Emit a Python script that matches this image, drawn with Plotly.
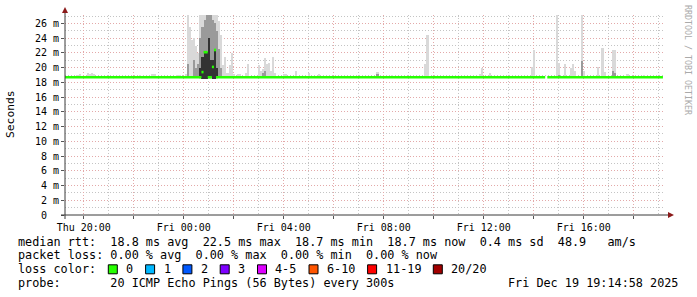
import plotly.graph_objects as go
import pandas as pd

# ---------------- data ----------------
THU = "2025-12-18 "
FRI = "2025-12-19 "

# light smoke (full spread of the 20 pings): time, low, high  (ms)
light_t = [THU + t for t in ["19:45", "19:50", "20:10", "20:15", "20:20", "20:25", "20:55",
                             "22:00", "22:15", "22:45", "22:50", "23:45", "23:50"]] + \
          [FRI + t for t in ["00:05", "00:10", "00:15", "00:20", "00:25", "00:30", "00:35",
                             "00:40", "00:45", "00:50", "00:55", "01:00", "01:05", "01:10",
                             "01:15", "01:20", "01:25", "01:30", "01:35", "01:40", "01:45",
                             "01:50", "01:55", "02:00", "02:10", "02:15", "02:30", "02:35",
                             "03:00", "03:05", "03:10", "03:15", "03:20", "03:25", "03:30",
                             "03:35", "03:40", "04:00", "04:05", "04:30", "05:00", "05:25",
                             "07:45", "08:20", "09:40", "09:45", "11:50", "11:55", "12:15",
                             "13:00", "13:55", "14:00", "14:55", "15:00", "15:15", "15:30",
                             "15:35", "15:40", "15:55", "16:00", "16:35", "16:45", "16:50",
                             "17:10", "17:15", "17:45", "18:25"]]
light_lo = [18.7, 18.7, 18.7, 18.7, 18.7, 18.7, 18.7,
            18.7, 18.7, 18.7, 18.7, 18.7, 18.7,
            18.7, 18.6, 18.6, 18.6, 18.6, 18.6, 18.6,
            18.5, 18.5, 18.5, 18.5, 18.5, 18.5, 18.5,
            18.5, 18.5, 18.6, 18.6, 18.6, 18.6, 18.6,
            18.6, 18.6, 18.6, 18.7, 18.7, 18.7, 18.7,
            18.7, 18.7, 18.7, 18.7, 18.7, 18.7, 18.7,
            18.7, 18.7, 18.7, 18.7, 18.7, 18.7, 18.7,
            18.7, 18.7, 18.7, 18.7, 18.7, 18.7, 18.7,
            18.7, 18.7, 18.7, 18.7, 18.7, 18.7, 18.7,
            18.7, 18.7, 18.7, 18.7, 18.7, 18.7, 18.7,
            18.7, 18.7, 18.7, 18.7]
light_hi = [19.0, 19.1, 19.3, 19.2, 19.3, 19.2, 18.9,
            18.9, 19.0, 19.1, 19.1, 19.0, 19.0,
            19.2, 27.2, 25.5, 23.7, 24.0, 23.0, 22.0,
            27.2, 27.2, 27.2, 27.2, 27.2, 27.2, 27.2,
            27.2, 27.2, 26.3, 24.5, 20.4, 21.5, 19.3,
            20.3, 22.0, 19.2, 19.1, 19.1, 19.3, 20.5,
            20.3, 19.5, 19.8, 21.3, 20.5, 20.6, 19.5,
            21.4, 19.3, 19.1, 19.1, 19.5, 19.3, 19.2,
            19.4, 19.0, 20.5, 24.5, 19.1, 20.0, 19.3,
            18.9, 20.1, 22.4, 27.2, 20.6, 20.5, 19.9,
            20.5, 19.5, 27.2, 19.6, 20.1, 22.7, 19.4,
            22.4, 22.4, 19.2, 19.0]

# medium smoke (inner percentiles)
mid_t = [FRI + t for t in ["00:10", "00:25", "00:30", "00:35", "00:40", "00:45", "00:50",
                           "00:55", "01:00", "01:05", "01:10", "01:15", "01:20", "01:25",
                           "01:30", "03:10", "03:15", "07:45", "15:00", "15:55", "17:10",
                           "17:15"]]
mid_lo = [18.7, 18.7, 18.7, 18.7, 18.7, 18.6, 18.6,
          18.6, 18.6, 18.6, 18.6, 18.6, 18.7, 18.7,
          18.7, 18.7, 18.7, 18.7, 18.7, 18.7, 18.7,
          18.7]
mid_hi = [20.5, 21.0, 20.0, 20.5, 24.0, 25.5, 26.5,
          27.2, 27.2, 27.2, 26.5, 26.0, 25.0, 22.5,
          20.0, 19.3, 19.6, 19.1, 19.0, 20.9, 19.5,
          19.3]

# dark smoke core
dark_t = [FRI + t for t in ["00:40", "00:45", "00:50", "00:55", "01:00", "01:05", "01:10",
                            "01:15", "01:20"]]
dark_lo = [18.7, 18.5, 18.5, 18.5, 18.7, 18.7, 18.5, 18.5, 18.7]
dark_hi = [20.0, 21.5, 22.1, 22.1, 24.0, 21.0, 21.0, 22.4, 20.0]

# median rtt: value holds from each time until the next one (None = no data)
median_t = [THU + "19:15:00", FRI + "00:42:30", FRI + "00:47:30", FRI + "00:57:30",
            FRI + "01:07:30", FRI + "01:12:30", FRI + "01:17:30", FRI + "14:27:30",
            FRI + "14:32:30", FRI + "19:10:00"]
median_v = [18.7, 19.4, 22.1, 18.7, 20.1, 22.4, 18.7, None, 18.7, None]

# axis ticks
x_tickvals = [THU + "20:00", THU + "22:00", FRI + "00:00", FRI + "02:00", FRI + "04:00",
              FRI + "06:00", FRI + "08:00", FRI + "10:00", FRI + "12:00", FRI + "14:00",
              FRI + "16:00", FRI + "18:00"]
x_ticktext = ["Thu 20:00", "", "Fri 00:00", "", "Fri 04:00", "", "Fri 08:00", "",
              "Fri 12:00", "", "Fri 16:00", ""]
y_tickvals = [0, 2, 4, 6, 8, 10, 12, 14, 16, 18, 20, 22, 24, 26]
y_ticktext = ["0\u00a0\u00a0"] + [f"{v} m" for v in y_tickvals[1:]]

legend_lines = [
    "median rtt:  18.8 ms avg  22.5 ms max  18.7 ms min  18.7 ms now  0.4 ms sd  48.9   am/s",
    "packet loss: 0.00 % avg  0.00 % max  0.00 % min  0.00 % now",
    "loss color:",
    "probe:       20 ICMP Echo Pings (56 Bytes) every 300s",
]
loss_labels = ["0", "1", "2", "3", "4-5", "6-10", "11-19", "20/20"]
loss_colors = ["#26ff00", "#00b8ff", "#0059ff", "#7e00ff", "#dd00ff", "#ff5500", "#ff0000", "#a10000"]
date_text = "Fri Dec 19 19:14:58 2025"
watermark = "RRDTOOL / TOBI OETIKER"

# ---------------- figure ----------------
W, H = 697, 297
L, R, T, B = 65, 32, 15, 82
PW, PH = W - L - R, H - T - B
MONO = "DejaVu Sans Mono"


def px(xp):
    return (xp - L) / PW


def py(yp):
    return (H - B - yp) / PH


fig = go.Figure()
STEP_MS = 300000


def smoke(ts, lo, hi, color):
    fig.add_trace(go.Bar(
        x=pd.to_datetime(ts), y=[h - l for l, h in zip(lo, hi)], base=lo,
        width=STEP_MS, marker=dict(color=color, line=dict(width=0)),
        showlegend=False, hoverinfo="skip"))


smoke(light_t, light_lo, light_hi, "#d9d9d9")
smoke(mid_t, mid_lo, mid_hi, "#9a9a9a")
smoke(dark_t, dark_lo, dark_hi, "#333333")

# median as horizontal segments (no vertical joins)
mx, my = [], []
for i in range(len(median_t) - 1):
    v = median_v[i]
    if v is None:
        continue
    mx += [median_t[i], median_t[i + 1], None]
    my += [v, v, None]
fig.add_trace(go.Scatter(x=mx, y=my, mode="lines", line=dict(color="#26ff00", width=2.6),
                         showlegend=False, hoverinfo="skip", connectgaps=False))

grid_minor = "#c4c4c4"
grid_major = "#e3a9a9"

fig.update_layout(
    width=W, height=H, margin=dict(l=L, r=R, t=T, b=B),
    paper_bgcolor="white", plot_bgcolor="white",
    barmode="overlay", bargap=0, showlegend=False,
    font=dict(family=MONO, size=10, color="black"),
    xaxis=dict(
        type="date", range=[THU + "19:15", FRI + "19:15"],
        tickmode="array", tickvals=x_tickvals, ticktext=x_ticktext,
        showgrid=True, gridcolor=grid_major, griddash="1px,2px", gridwidth=1,
        ticks="outside", ticklen=3, tickcolor="#555555",
        tickfont=dict(family=MONO, size=10, color="black"),
        minor=dict(dtick=3600000, showgrid=True, gridcolor=grid_minor, griddash="1px,2px",
                   ticks=""),
        showline=False, zeroline=False, fixedrange=True,
    ),
    yaxis=dict(
        range=[0, 27.15], tickmode="array", tickvals=y_tickvals, ticktext=y_ticktext,
        showgrid=True, gridcolor=grid_major, griddash="1px,2px", gridwidth=1,
        ticks="outside", ticklen=3, tickcolor="#555555",
        tickfont=dict(family=MONO, size=10, color="black"),
        minor=dict(dtick=1, showgrid=True, gridcolor=grid_minor, griddash="1px,2px", ticks=""),
        showline=False, zeroline=False, fixedrange=True,
    ),
)

# axes lines with arrows
axis_col = "#3a3a3a"
arrow_col = "#8b1a1a"
fig.add_shape(type="line", xref="paper", yref="paper", x0=px(61), x1=px(669), y0=0, y1=0,
              line=dict(color=axis_col, width=1))
fig.add_shape(type="line", xref="paper", yref="paper", x0=0, x1=0, y0=py(219), y1=py(12),
              line=dict(color=axis_col, width=1))
fig.add_shape(type="path", xref="paper", yref="paper",
              path=f"M {px(668)} {py(212)} L {px(674)} {py(215)} L {px(668)} {py(218)} Z",
              fillcolor=arrow_col, line=dict(width=0))
fig.add_shape(type="path", xref="paper", yref="paper",
              path=f"M {px(62)} {py(13)} L {px(65)} {py(7)} L {px(68)} {py(13)} Z",
              fillcolor=arrow_col, line=dict(width=0))

# y title and watermark
fig.add_annotation(text="Seconds", xref="paper", yref="paper", x=px(10), y=py(114),
                   xanchor="center", yanchor="middle",
                   showarrow=False, textangle=-90, font=dict(family=MONO, size=11.3, color="black"))
fig.add_annotation(text=watermark.replace(" ", "\u00a0"), xref="paper", yref="paper",
                   x=px(688), y=py(60), xanchor="center", yanchor="middle",
                   showarrow=False, textangle=90,
                   font=dict(family=MONO, size=8.3, color="#aaaaaa"))

# legend text
LEG_FS = 11.8
CW = 7.1
line_y = [241.7, 255.2, 269.3, 283.3]
for txt, yy in zip(legend_lines, line_y):
    fig.add_annotation(text=txt.replace(" ", "\u00a0"), xref="paper", yref="paper",
                       x=px(16), y=py(yy), xanchor="left", yanchor="middle", showarrow=False,
                       font=dict(family=MONO, size=LEG_FS, color="black"))
fig.add_annotation(text=date_text.replace(" ", "\u00a0"), xref="paper", yref="paper",
                   x=px(680), y=py(line_y[3]), xanchor="right", yanchor="middle",
                   showarrow=False, font=dict(family=MONO, size=LEG_FS, color="black"))

# loss colour boxes
bx = 16 + 13 * CW
for lab, col in zip(loss_labels, loss_colors):
    fig.add_shape(type="rect", xref="paper", yref="paper",
                  x0=px(bx), x1=px(bx + 9), y0=py(line_y[2] + 4.5), y1=py(line_y[2] - 4.5),
                  fillcolor=col, line=dict(color="black", width=1))
    lx = bx + 16
    fig.add_annotation(text=lab, xref="paper", yref="paper", x=px(lx), y=py(line_y[2]),
                       xanchor="left", yanchor="middle", showarrow=False,
                       font=dict(family=MONO, size=LEG_FS, color="black"))
    bx = lx + len(lab) * CW + 2 * CW

fig.write_html("out.html")
